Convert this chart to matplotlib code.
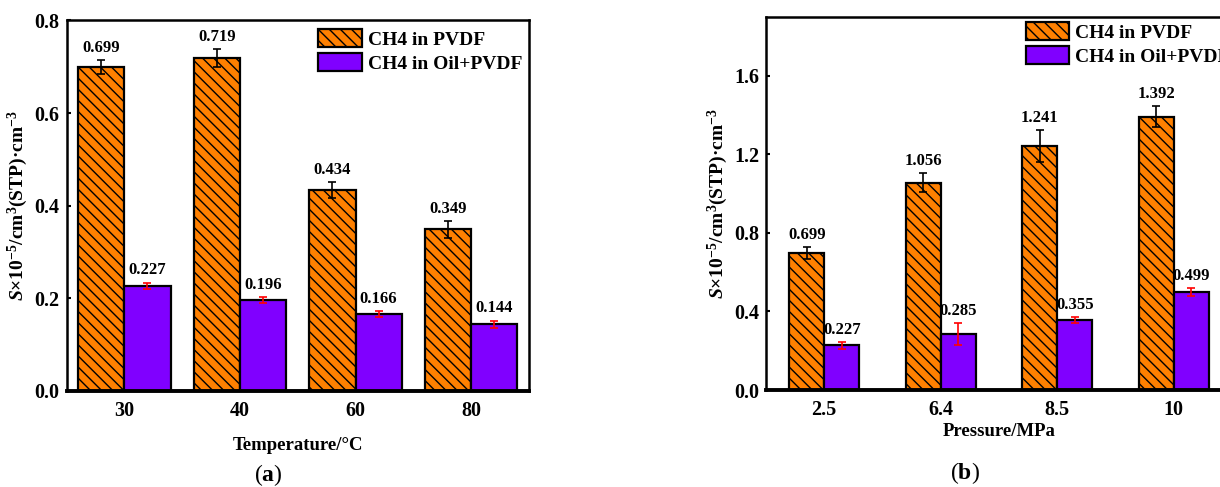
import matplotlib
matplotlib.use('Agg')
import matplotlib.pyplot as plt
import numpy as np

# panel (a): temperature series
temps = ['30', '40', '60', '80']
pvdf_t = [0.699, 0.719, 0.434, 0.349]
pvdf_t_err = [0.015, 0.020, 0.017, 0.018]
oil_t = [0.227, 0.196, 0.166, 0.144]
oil_t_err = [0.007, 0.007, 0.006, 0.008]

# panel (b): pressure series
press = ['2.5', '6.4', '8.5', '10']
pvdf_p = [0.699, 1.056, 1.241, 1.392]
pvdf_p_err = [0.030, 0.050, 0.080, 0.053]
oil_p = [0.227, 0.285, 0.355, 0.499]
oil_p_err = [0.017, 0.055, 0.016, 0.020]

ORANGE = '#FF8000'
PURPLE = '#8000FF'

plt.rcParams['font.family'] = ['Liberation Serif', 'DejaVu Serif']
plt.rcParams['font.weight'] = 'bold'
plt.rcParams['mathtext.fontset'] = 'custom'
plt.rcParams['mathtext.rm'] = 'Liberation Serif:bold'
plt.rcParams['mathtext.it'] = 'Liberation Serif:italic:bold'
plt.rcParams['mathtext.bf'] = 'Liberation Serif:bold'
plt.rcParams['hatch.linewidth'] = 1.0


def draw_panel(ax, cats, v1, e1, v2, e2, width, ylim, yticks, xlabel, ylabel,
               leg_anchor, labelpad):
    x = np.arange(len(cats))
    ax.bar(x - width / 2, v1, width, color=ORANGE, edgecolor='black',
           linewidth=1.6, hatch='\\\\\\', label='CH4 in PVDF', zorder=2)
    ax.bar(x + width / 2, v2, width, color=PURPLE, edgecolor='black',
           linewidth=1.6, label='CH4 in Oil+PVDF', zorder=2)
    ax.errorbar(x - width / 2, v1, yerr=e1, fmt='none', ecolor='black',
                elinewidth=1.2, capsize=3, capthick=1.2, zorder=3)
    ax.errorbar(x + width / 2, v2, yerr=e2, fmt='none', ecolor='red',
                elinewidth=1.2, capsize=3, capthick=1.2, zorder=3)
    for xi, v, e in zip(x - width / 2, v1, e1):
        ax.annotate(f'{v:.3f}', (xi, v + e), xytext=(0, 3),
                    textcoords='offset points', ha='center', va='bottom',
                    fontsize=12, fontweight='bold')
    for xi, v, e in zip(x + width / 2, v2, e2):
        ax.annotate(f'{v:.3f}', (xi, v + e), xytext=(0, 3),
                    textcoords='offset points', ha='center', va='bottom',
                    fontsize=12, fontweight='bold')
    ax.set_xlim(-0.5, len(cats) - 0.5)
    ax.set_ylim(*ylim)
    ax.set_yticks(yticks)
    ax.set_yticklabels([f'{t:.1f}' for t in yticks])
    ax.set_xticks(x)
    ax.set_xticklabels(cats)
    ax.tick_params(axis='x', length=0, pad=7, labelsize=14.5)
    ax.tick_params(axis='y', direction='in', length=3, width=1.5,
                   pad=5, labelsize=14.5)
    for sp in ax.spines.values():
        sp.set_linewidth(1.8)
    ax.spines['bottom'].set_linewidth(2.8)
    ax.set_xlabel(xlabel, fontsize=13.5, fontweight='bold', labelpad=labelpad)
    ax.set_ylabel(ylabel, fontsize=14, fontweight='bold', labelpad=3)
    ax.legend(loc='upper left', bbox_to_anchor=leg_anchor, frameon=False,
              fontsize=14, borderpad=0, borderaxespad=0, handlelength=2.25,
              handleheight=1.05, handletextpad=0.3, labelspacing=0.22)


fig = plt.figure(figsize=(12.2, 4.87), dpi=100)
W, H = 1220, 487

ylab = r'$\mathit{S}$×10$^{-5}$/cm$^{3}$(STP)·cm$^{-3}$'

ax1 = fig.add_axes([66.5 / W, 1 - 391 / H, (529 - 66.5) / W, (391 - 20.5) / H])
draw_panel(ax1, temps, pvdf_t, pvdf_t_err, oil_t, oil_t_err, 0.4,
           (0, 0.8), [0.0, 0.2, 0.4, 0.6, 0.8], 'Temperature/°C', ylab,
           (0.544, 0.977), 12)

ax2 = fig.add_axes([766 / W, 1 - 390 / H, 466 / W, (390 - 16.7) / H])
draw_panel(ax2, press, pvdf_p, pvdf_p_err, oil_p, oil_p_err, 0.3,
           (0, 1.9), [0.0, 0.4, 0.8, 1.2, 1.6], 'Pressure/MPa', ylab,
           (0.557, 0.986), 2)

fig.text(268 / W, 1 - 475 / H, r'($\mathbf{a}$)', ha='center', va='center',
         fontsize=17, fontweight='normal')
fig.text(965 / W, 1 - 473 / H, r'($\mathbf{b}$)', ha='center', va='center',
         fontsize=17, fontweight='normal')

fig.savefig('out.png', dpi=100)
